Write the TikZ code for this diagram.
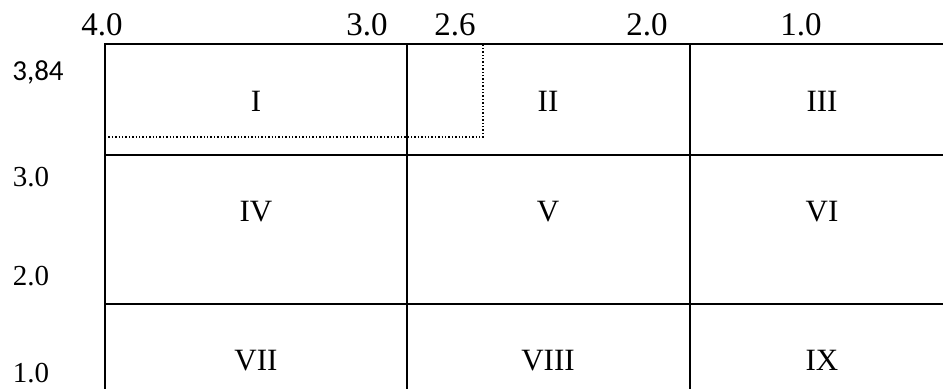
\documentclass[tikz,border=0pt]{standalone}
\usepackage{fontspec}
\setmainfont{Liberation Serif}
\newfontfamily\carlito{Carlito}
\usepackage{tikz}

\begin{document}
\begin{tikzpicture}[x=0.5pt, y=-0.5pt,
  region/.style={font=\fontsize{15.5}{18}\selectfont, anchor=base, inner sep=0},
  toplabel/.style={font=\fontsize{16.5}{19}\selectfont, anchor=base, inner sep=0},
  sidelabel/.style={font=\fontsize{14.5}{17}\selectfont, anchor=base, inner sep=0},
  cellline/.style={line width=1pt},
  bound/.style={line width=0.7pt, densely dotted}]
\useasboundingbox (0,0) rectangle (943,389);
%table
\draw[cellline] (105,400) -- (105,44) -- (960,44);
\draw[cellline] (105,155) -- (960,155);
\draw[cellline] (105,304) -- (960,304);
\draw[cellline] (407,44) -- (407,400);
\draw[cellline] (690,44) -- (690,400);
%dotted border
\coordinate (d1) at (105,137);
\coordinate (d2) at (483,137);
\coordinate (d3) at (483,44);
\draw[bound] (d1) -- (d2) -- (d3);
%top scale
\node[toplabel] (t40) at (102,36) {4.0};
\node[toplabel] (t30) at (367,36) {3.0};
\node[toplabel] (t26) at (455,36) {2.6};
\node[toplabel] (t20) at (647,36) {2.0};
\node[toplabel] (t10) at (801,36) {1.0};
%side scale
\node[sidelabel, font=\carlito\fontsize{14.5}{17}\selectfont] (s384) at (38,81) {3,84};
\node[sidelabel] (s30) at (31,187) {3.0};
\node[sidelabel] (s20) at (31,286) {2.0};
\node[sidelabel] (s10) at (31,383) {1.0};
%regions
\node[region] (r1) at (256,112) {I};
\node[region] (r2) at (548,112) {II};
\node[region] (r3) at (822,112) {III};
\node[region] (r4) at (256,222) {IV};
\node[region] (r5) at (548,222) {V};
\node[region] (r6) at (822,222) {VI};
\node[region] (r7) at (256,371) {VII};
\node[region] (r8) at (548,371) {VIII};
\node[region] (r9) at (822,371) {IX};
\end{tikzpicture}
\end{document}
